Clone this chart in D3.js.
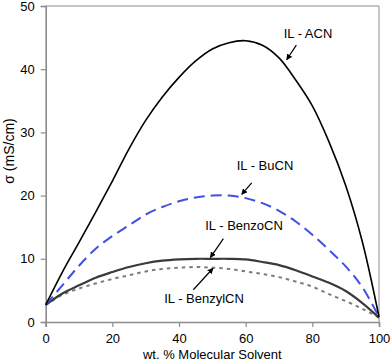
<!DOCTYPE html>
<html>
<head>
<meta charset="utf-8">
<script src="https://cdn.jsdelivr.net/npm/d3@7"></script>
<style>
  body { margin: 0; background: #fff; }
  svg { display: block; font-family: Arial, "Liberation Sans", sans-serif; }
</style>
</head>
<body>
<div id="chart"></div>
<script>
// wt. % molecular solvent
const solvent = [0, 5, 10, 15, 20, 25, 30, 35, 40, 45, 50, 55, 60, 65, 70, 75, 80, 85, 90, 95, 100];

// conductivity (mS/cm)
const acn      = [2.7, 7.9, 12.6, 17.4, 22.3, 27.4, 31.9, 35.6, 38.7, 41.3, 43.2, 44.2, 44.5, 43.8, 41.8, 38.3, 34.2, 28.5, 21.6, 12.7, 0.8];
const bucn     = [2.7, 5.8, 8.9, 11.6, 13.6, 15.3, 17.0, 18.2, 19.1, 19.7, 20.0, 20.0, 19.6, 18.8, 17.6, 15.9, 13.8, 11.4, 8.8, 5.5, 0.8];
const benzocn  = [2.7, 4.5, 5.8, 7.0, 7.9, 8.7, 9.3, 9.7, 9.9, 10.0, 10.0, 10.0, 9.9, 9.5, 9.0, 8.2, 7.2, 6.2, 4.9, 3.0, 0.7];
const benzylcn = [2.7, 4.3, 5.3, 6.1, 6.8, 7.4, 8.0, 8.4, 8.6, 8.7, 8.6, 8.4, 8.0, 7.6, 7.1, 6.4, 5.6, 4.4, 3.3, 2.1, 0.7];

const xTicks = [0, 20, 40, 60, 80, 100];
const yTicks = [0, 10, 20, 30, 40, 50];

// labels with arrow start/end in data units
const notes = [
    { text: 'IL - ACN',      tx: 78.7, ty: 45.0, from: [75.2, 43.8], to: [72.3, 41.5] },
    { text: 'IL - BuCN',     tx: 65.8, ty: 24.0, from: [61.8, 22.0], to: [58.8, 20.2] },
    { text: 'IL - BenzoCN',  tx: 59.5, ty: 14.5, from: [53.3, 13.2], to: [49.4, 10.2] },
    { text: 'IL - BenzylCN', tx: 47.5, ty: 3.0,  from: [44.3, 5.1],  to: [50.2, 8.5] }
];

const width = 392, height = 362;
const margin = { top: 6, right: 13, bottom: 40, left: 45.7 };

const svg = d3.select('#chart')
    .append('svg')
    .attr('width', width)
    .attr('height', height);

const x = d3.scaleLinear().domain([0, 100]).range([margin.left, width - margin.right]);
const y = d3.scaleLinear().domain([0, 50]).range([height - margin.bottom, margin.top]);

const axisColor = '#8c8c8c';

// frame (top and right)
svg.append('path')
    .attr('d', `M${x(0)},${y(50)}H${x(100)}V${y(0)}`)
    .attr('fill', 'none')
    .attr('stroke', axisColor)
    .attr('stroke-width', 1);

// axes
const xAxis = svg.append('g')
    .attr('transform', `translate(0,${y(0)})`)
    .call(d3.axisBottom(x).tickValues(xTicks).tickSize(5).tickPadding(7));

const yAxis = svg.append('g')
    .attr('transform', `translate(${x(0)},0)`)
    .call(d3.axisLeft(y).tickValues(yTicks).tickSize(5).tickPadding(6));

[xAxis, yAxis].forEach(g => {
    g.select('.domain').attr('stroke', axisColor).attr('stroke-width', 1.6);
    g.selectAll('.tick line').attr('stroke', axisColor).attr('stroke-width', 1.2);
    g.selectAll('.tick text')
        .attr('fill', '#000')
        .style('font-size', '13px')
        .style('font-family', 'Arial, "Liberation Sans", sans-serif');
});

// axis titles
svg.append('text')
    .attr('x', (x(0) + x(100)) / 2)
    .attr('y', 359)
    .attr('text-anchor', 'middle')
    .style('font-size', '13px')
    .text('wt. % Molecular Solvent');

svg.append('text')
    .attr('transform', `translate(14,${151}) rotate(-90)`)
    .attr('text-anchor', 'middle')
    .style('font-size', '14px')
    .text('σ (mS/cm)');

// curves
const line = d3.line()
    .x((d, i) => x(solvent[i]))
    .y(d => y(d))
    .curve(d3.curveCatmullRom.alpha(0.5));

const series = [
    { values: benzylcn, color: '#6f8282', width: 2, dash: '3.5,4' },
    { values: benzocn,  color: '#3a3a3a', width: 2.2, dash: null },
    { values: bucn,     color: '#4050e0', width: 2, dash: '11,6' },
    { values: acn,      color: '#000000', width: 1.6, dash: null }
];

svg.selectAll('.curve')
    .data(series)
    .enter()
    .append('path')
    .attr('class', 'curve')
    .attr('fill', 'none')
    .attr('stroke', d => d.color)
    .attr('stroke-width', d => d.width)
    .attr('stroke-dasharray', d => d.dash)
    .attr('d', d => line(d.values));

// arrow heads
svg.append('defs').append('marker')
    .attr('id', 'head')
    .attr('viewBox', '0 0 10 10')
    .attr('refX', 9)
    .attr('refY', 5)
    .attr('markerWidth', 6)
    .attr('markerHeight', 6)
    .attr('markerUnits', 'userSpaceOnUse')
    .attr('orient', 'auto')
    .append('path')
    .attr('d', 'M0,0L10,5L0,10z')
    .attr('fill', '#000');

const note = svg.selectAll('.note')
    .data(notes)
    .enter()
    .append('g')
    .attr('class', 'note');

note.append('line')
    .attr('x1', d => x(d.from[0]))
    .attr('y1', d => y(d.from[1]))
    .attr('x2', d => x(d.to[0]))
    .attr('y2', d => y(d.to[1]))
    .attr('stroke', '#000')
    .attr('stroke-width', 1.2)
    .attr('marker-end', 'url(#head)');

note.append('text')
    .attr('x', d => x(d.tx))
    .attr('y', d => y(d.ty))
    .attr('text-anchor', 'middle')
    .style('font-size', '13px')
    .text(d => d.text);
</script>
</body>
</html>
